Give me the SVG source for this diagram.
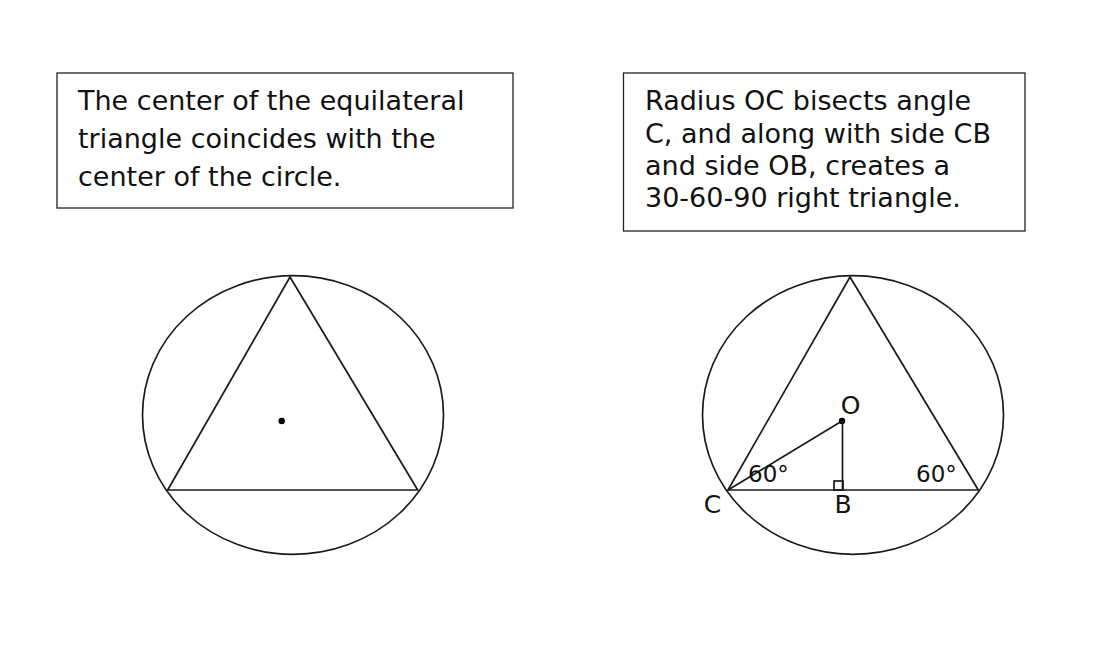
<svg xmlns="http://www.w3.org/2000/svg" width="1094" height="654" viewBox="0 0 1094 654">
<style>
.box{fill:#fff;stroke:#222;stroke-width:1.3}
.txt{font-family:"DejaVu Sans","Verdana",sans-serif;font-size:27px;fill:#111}
.lbl{font-family:"DejaVu Sans","Verdana",sans-serif;font-size:25px;fill:#111}
.deg{font-family:"DejaVu Sans","Verdana",sans-serif;font-size:23px;fill:#111}
.ln{fill:none;stroke:#1a1a1a;stroke-width:1.7}
.dot{fill:#000}
</style>
<rect width="1094" height="654" fill="#fff"/>
<g id="note-left">
<rect class="box" x="57" y="73" width="456" height="135"/>
<text class="txt" x="78" y="110">The center of the equilateral</text>
<text class="txt" x="78" y="148">triangle coincides with the</text>
<text class="txt" x="78" y="186">center of the circle.</text>
</g>
<g id="note-right">
<rect class="box" x="623.5" y="73" width="401.5" height="158"/>
<text class="txt" x="645" y="110">Radius OC bisects angle</text>
<text class="txt" x="645" y="143">C, and along with side CB</text>
<text class="txt" x="645" y="175">and side OB, creates a</text>
<text class="txt" x="645" y="207">30-60-90 right triangle.</text>
</g>
<g id="figure-left">
<ellipse class="ln" cx="293" cy="415" rx="150.5" ry="139.3"/>
<polygon class="ln" points="290,277 167.7,490 417.7,490"/>
<circle class="dot" cx="281.7" cy="421" r="3.2"/>
</g>
<g id="figure-right">
<ellipse class="ln" cx="853" cy="415" rx="150.5" ry="139.3"/>
<polygon class="ln" points="850,277 728,490 978.3,490"/>
<circle class="dot" cx="842" cy="421" r="3.2"/>
</g>
<g id="connectors">
<line class="ln" x1="728" y1="490" x2="842" y2="421"/>
<line class="ln" x1="842.5" y1="421" x2="842.5" y2="490"/>
<rect class="ln" x="834" y="481" width="9" height="9"/>
</g>
<g id="labels">
<text class="lbl" x="850.5" y="414" text-anchor="middle">O</text>
<text class="lbl" x="712.5" y="513" text-anchor="middle">C</text>
<text class="lbl" x="843" y="513" text-anchor="middle">B</text>
<text class="deg" x="748" y="482">60°</text>
<text class="deg" x="916" y="482">60°</text>
</g>
</svg>
